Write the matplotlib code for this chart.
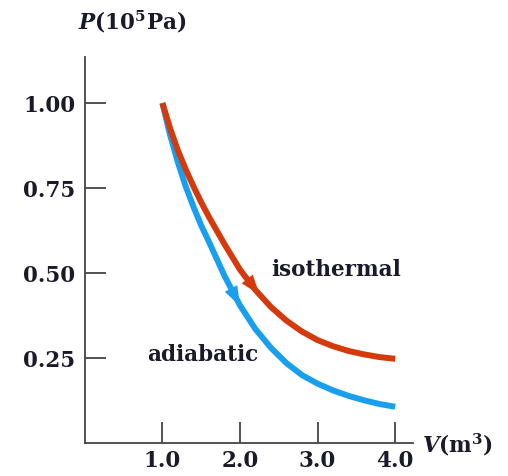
import matplotlib.pyplot as plt

plt.rcParams['font.family'] = 'DejaVu Serif'
plt.rcParams['font.weight'] = 'bold'
plt.rcParams['mathtext.fontset'] = 'custom'
plt.rcParams['mathtext.rm'] = 'DejaVu Serif:bold'
plt.rcParams['mathtext.it'] = 'DejaVu Serif:italic:bold'

# values
volume = [1.0, 1.1, 1.2, 1.3, 1.4, 1.5, 1.6, 1.8, 2.0, 2.2, 2.4, 2.6, 2.8, 3.0, 3.2, 3.4, 3.6, 3.8, 4.0]
p_isothermal = [1.00, 0.925, 0.86, 0.805, 0.755, 0.708, 0.665, 0.585, 0.51, 0.45, 0.40, 0.36, 0.328,
                0.303, 0.285, 0.271, 0.261, 0.253, 0.248]
p_adiabatic = [1.00, 0.905, 0.825, 0.755, 0.695, 0.64, 0.592, 0.492, 0.405, 0.335, 0.28, 0.235, 0.20,
               0.175, 0.155, 0.139, 0.126, 0.115, 0.107]

x_ticks = [1.0, 2.0, 3.0, 4.0]
y_ticks = [0.25, 0.50, 0.75, 1.00]

red = '#d43a0c'
blue = '#18a0ee'
ink = '#1a1a2a'

fig = plt.figure(figsize=(5.08, 4.76), dpi=100)
ax = fig.add_axes([0.167, 0.069, 0.646, 0.811])

ax.plot(volume, p_adiabatic, color=blue, lw=4.3, solid_capstyle='butt')
ax.plot(volume, p_isothermal, color=red, lw=4.3, solid_capstyle='butt')

# direction arrows on the curves
head = '-|>,head_length=1.4,head_width=0.5'
ax.annotate('', xy=(2.25, 0.437), xytext=(2.0, 0.51),
            arrowprops=dict(arrowstyle=head, color=red, lw=0.1, shrinkA=0, shrinkB=0))
ax.annotate('', xy=(2.0, 0.403), xytext=(1.8, 0.492),
            arrowprops=dict(arrowstyle=head, color=blue, lw=0.1, shrinkA=0, shrinkB=0))

ax.text(2.4, 0.51, 'isothermal', fontsize=15.5, ha='left', va='center', color=ink)
ax.text(0.8, 0.26, 'adiabatic', fontsize=15.5, ha='left', va='center', color=ink)

ax.set_xlim(0, 4.23)
ax.set_ylim(0, 1.135)
ax.set_xticks(x_ticks)
ax.set_xticklabels([f'{v:.1f}' for v in x_ticks])
ax.set_yticks(y_ticks)
ax.set_yticklabels([f'{v:.2f}' for v in y_ticks])
ax.tick_params(direction='in', length=15, width=1.3, color='#444444', labelsize=15.5,
               labelcolor=ink)
ax.tick_params(axis='y', pad=7)
ax.tick_params(axis='x', pad=5)

for side in ['top', 'right']:
    ax.spines[side].set_visible(False)
for side in ['left', 'bottom']:
    ax.spines[side].set_color('#444444')
    ax.spines[side].set_linewidth(1.3)

fig.text(132 / 508, 1 - 22 / 476, '$P$(10$^5$Pa)', fontsize=15.5, ha='center', va='center', color=ink)
fig.text(458 / 508, 1 - 445 / 476, '$V$(m$^3$)', fontsize=15.5, ha='center', va='center', color=ink)

fig.savefig('out.png', dpi=100)
